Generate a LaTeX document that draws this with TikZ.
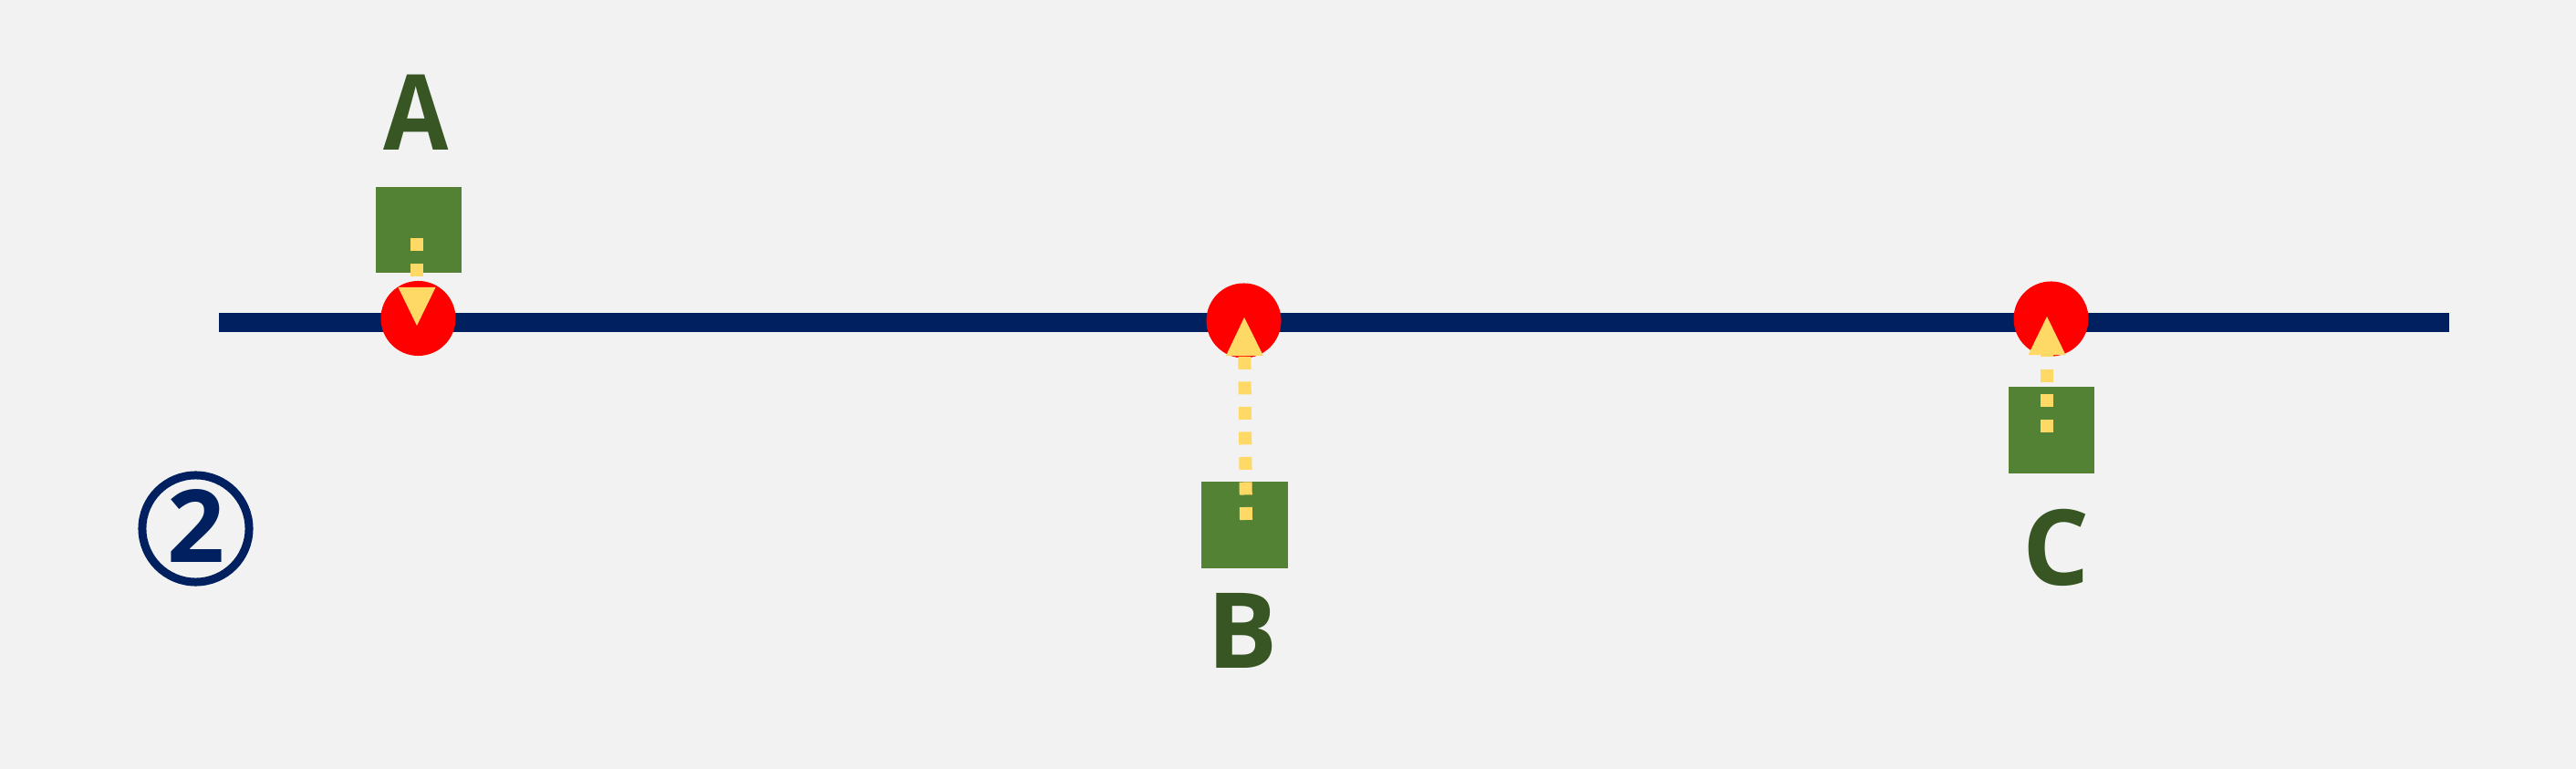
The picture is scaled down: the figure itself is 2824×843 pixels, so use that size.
\documentclass[tikz,border=0pt]{standalone}
\usepackage{fontspec}
\setmainfont{Open Sans}
\usetikzlibrary{arrows.meta}
\definecolor{bg}{HTML}{F2F2F2}
\definecolor{boxgreen}{HTML}{548235}
\definecolor{txtgreen}{HTML}{375623}
\definecolor{navy}{HTML}{002060}
\definecolor{dotyellow}{HTML}{FFD966}
\definecolor{pinred}{HTML}{FF0000}
\begin{document}
\begin{tikzpicture}[x=0.01cm,y=-0.01cm,
  sq/.style={fill=boxgreen,draw=none,minimum size=0.94cm,inner sep=0pt,outer sep=0pt},
  pin/.style={circle,fill=pinred,draw=none,minimum size=0.82cm,inner sep=0pt},
  lab/.style={text=txtgreen,font=\fontsize{32.7}{36}\selectfont\bfseries,inner sep=0pt},
  link/.style={draw=dotyellow,line width=0.14cm,dash pattern=on 0.14cm off 0.135cm,
    -{Triangle[length=0.42cm,width=0.41cm,line width=0pt]}}]
\useasboundingbox[fill=bg] (0,0) rectangle (2824,843);
% boxes
\node[sq] (bA) at (459,252) {};
\node[sq] (bB) at (1364.5,575.5) {};
\node[sq] (bC) at (2248.5,471.5) {};
% labels
\node[lab,xscale=0.9] (tA) at (456,123) {A};
\node[lab] (tB) at (1362,691) {B};
\node[lab] (tC) at (2254,600) {C};
% axis line
\coordinate (L0) at (240,353.3);
\coordinate (L1) at (2685,353.3);
\draw[navy,line width=0.21cm] (L0) -- (L1);
% pins
\node[pin] (pA) at (458.5,349) {};
\node[pin] (pB) at (1363.5,351.5) {};
\node[pin] (pC) at (2248.5,349.5) {};
% connectors
\coordinate (sA) at (457,261);
\coordinate (eA) at (457,357);
\coordinate (sB) at (1366,570);
\coordinate (eB) at (1364,348);
\coordinate (sC) at (2244,474);
\coordinate (eC) at (2244,347);
\draw[link] (sA) -- (eA);
\draw[link] (sB) -- (eB);
\draw[link] (sC) -- (eC);
% circled number
\node[circle,draw=navy,line width=0.09cm,minimum size=1.17cm,inner sep=0pt] (num) at (214.5,579.5) {};
\node[text=navy,font=\fontsize{31.4}{34}\selectfont\bfseries,inner sep=0pt] (numtxt) at (215,576.5) {2};
\end{tikzpicture}
\end{document}
